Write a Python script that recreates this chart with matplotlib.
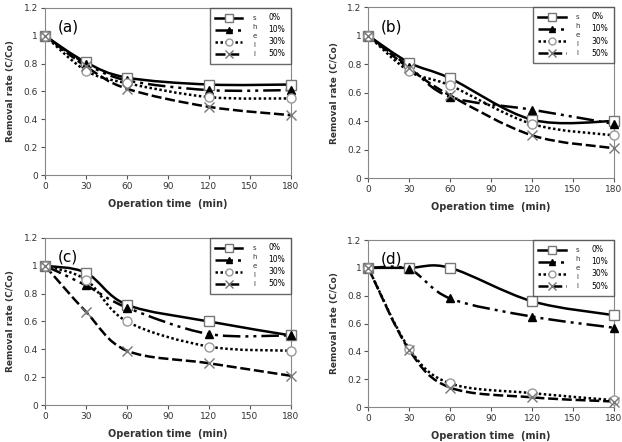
#!/usr/bin/env python3
# Removal rate (C/Co) vs operation time, four panels (a)-(d)
import numpy as np
import matplotlib
matplotlib.use('Agg')
from matplotlib import pyplot as plt
from matplotlib.path import Path
from matplotlib.patches import PathPatch
from matplotlib.lines import Line2D


time_min = [0, 30, 60, 120, 180]
shell_pct = ['0%', '10%', '30%', '50%']
shell_txt = ['s', 'h', 'e', 'l', 'l']
panel_tags = ['(a)', '(b)', '(c)', '(d)']

# removal rate per panel, one list per shell content
rate_a_0 = [1.00, 0.81, 0.70, 0.65, 0.65]
rate_a_10 = [1.00, 0.80, 0.68, 0.61, 0.61]
rate_a_30 = [1.00, 0.75, 0.66, 0.56, 0.55]
rate_a_50 = [1.00, 0.78, 0.62, 0.49, 0.43]

rate_b_0 = [1.00, 0.81, 0.70, 0.41, 0.40]
rate_b_10 = [1.00, 0.78, 0.57, 0.48, 0.38]
rate_b_30 = [1.00, 0.75, 0.65, 0.38, 0.30]
rate_b_50 = [1.00, 0.77, 0.58, 0.30, 0.21]

rate_c_0 = [1.00, 0.95, 0.72, 0.60, 0.50]
rate_c_10 = [1.00, 0.86, 0.70, 0.51, 0.50]
rate_c_30 = [1.00, 0.90, 0.60, 0.42, 0.39]
rate_c_50 = [1.00, 0.67, 0.39, 0.30, 0.21]

rate_d_0 = [1.00, 1.00, 1.00, 0.76, 0.66]
rate_d_10 = [1.00, 0.99, 0.78, 0.65, 0.57]
rate_d_30 = [1.00, 0.42, 0.17, 0.10, 0.05]
rate_d_50 = [1.00, 0.41, 0.14, 0.07, 0.04]

panels = [
    [rate_a_0, rate_a_10, rate_a_30, rate_a_50],
    [rate_b_0, rate_b_10, rate_b_30, rate_b_50],
    [rate_c_0, rate_c_10, rate_c_30, rate_c_50],
    [rate_d_0, rate_d_10, rate_d_30, rate_d_50],
]

# styles of the four series
LS = ['-', (0, (7, 2, 1.2, 2, 1.2, 2)), (0, (1, 1)), (0, (4, 1.5))]
MK = ['s', '^', 'o', 'x']
MFC = ['white', 'black', 'white', 'none']
MEC = ['#777777', 'black', '#999999', '#777777']
MS = [7, 6, 6.5, 7]


def smooth_path(x, y):
    """Excel-like smoothed line as cubic Bezier path through the points."""
    p = np.column_stack([x, y]).astype(float)
    n = len(p)
    verts = [p[0]]
    codes = [Path.MOVETO]
    for i in range(n - 1):
        p0 = p[max(i - 1, 0)]
        p1 = p[i]
        p2 = p[i + 1]
        p3 = p[min(i + 2, n - 1)]
        c1 = p1 + (p2 - p0) / 6.
        c2 = p2 - (p3 - p1) / 6.
        verts += [c1, c2, p2]
        codes += [Path.CURVE4] * 3
    return Path(verts, codes)


positions = [
    [0.0723, 0.604, 0.395, 0.378],
    [0.592, 0.597, 0.395, 0.387],
    [0.0723, 0.0837, 0.395, 0.378],
    [0.592, 0.079, 0.395, 0.378],
]

fig = plt.figure(figsize=(6.22, 4.42), dpi=100)
renderer = fig.canvas.get_renderer()
for k, (pos, series) in enumerate(zip(positions, panels)):
    ax = fig.add_axes(pos)
    for j, vals in enumerate(series):
        patch = PathPatch(smooth_path(time_min, vals), fill=False, ec='black',
                          lw=1.8, ls=LS[j], capstyle='butt', zorder=2)
        ax.add_patch(patch)
        ax.plot(time_min, vals, ls='none', marker=MK[j], ms=MS[j], mfc=MFC[j],
                mec=MEC[j], mew=1.0, zorder=3, clip_on=False)

    ax.set_xlim(0, 180)
    ax.set_ylim(0, 1.2)
    ax.set_xticks([0, 30, 60, 90, 120, 150, 180])
    ax.set_yticks([0, 0.2, 0.4, 0.6, 0.8, 1.0, 1.2])
    ax.set_yticklabels(['0', '0.2', '0.4', '0.6', '0.8', '1', '1.2'])
    ax.tick_params(direction='out', length=3, width=0.8, labelsize=6.5,
                   colors='#555555', labelcolor='#333333', pad=2)
    for sp in ax.spines.values():
        sp.set_color('#888888')
        sp.set_linewidth(0.8)
    ax.set_xlabel('Operation time  (min)', fontsize=7, fontweight='bold',
                  color='#333333', labelpad=6)
    ax.set_ylabel('Removal rate (C/Co)', fontsize=6.5, fontweight='bold',
                  color='#333333', labelpad=6)
    ax.text(0.05, 0.93, panel_tags[k], transform=ax.transAxes, fontsize=11,
            va='top', ha='left')

    # legend box with the vertical "shell" text between samples and labels
    handles = [Line2D([], [], color='black', lw=1.8, ls=LS[j], marker=MK[j],
                      ms=MS[j] - 1.5, mfc=MFC[j], mec=MEC[j], mew=1.0)
               for j in range(4)]
    leg = ax.legend(handles, shell_pct, loc='upper right',
                    fontsize=5.5, frameon=True, fancybox=False, edgecolor='#444444',
                    borderaxespad=0, handlelength=3.6, handletextpad=3.4,
                    labelspacing=0.4, borderpad=0.7)
    leg.get_frame().set_linewidth(1.0)
    leg.set_zorder(5)
    fig.canvas.draw()
    inv = ax.transAxes.inverted()
    tbs = [t.get_window_extent(renderer) for t in leg.get_texts()]
    xs_pix = tbs[0].x0 - 14
    y_top = 0.5 * (tbs[0].y0 + tbs[0].y1)
    y_bot = 0.5 * (tbs[-1].y0 + tbs[-1].y1)
    for i, ch in enumerate(shell_txt):
        ypix = y_top + (y_bot - y_top) * i / (len(shell_txt) - 1)
        xa, ya = inv.transform([xs_pix, ypix])
        ax.text(xa, ya, ch, transform=ax.transAxes, fontsize=5,
                ha='center', va='center', color='#333333', zorder=10)

fig.savefig('out.png', dpi=100)
